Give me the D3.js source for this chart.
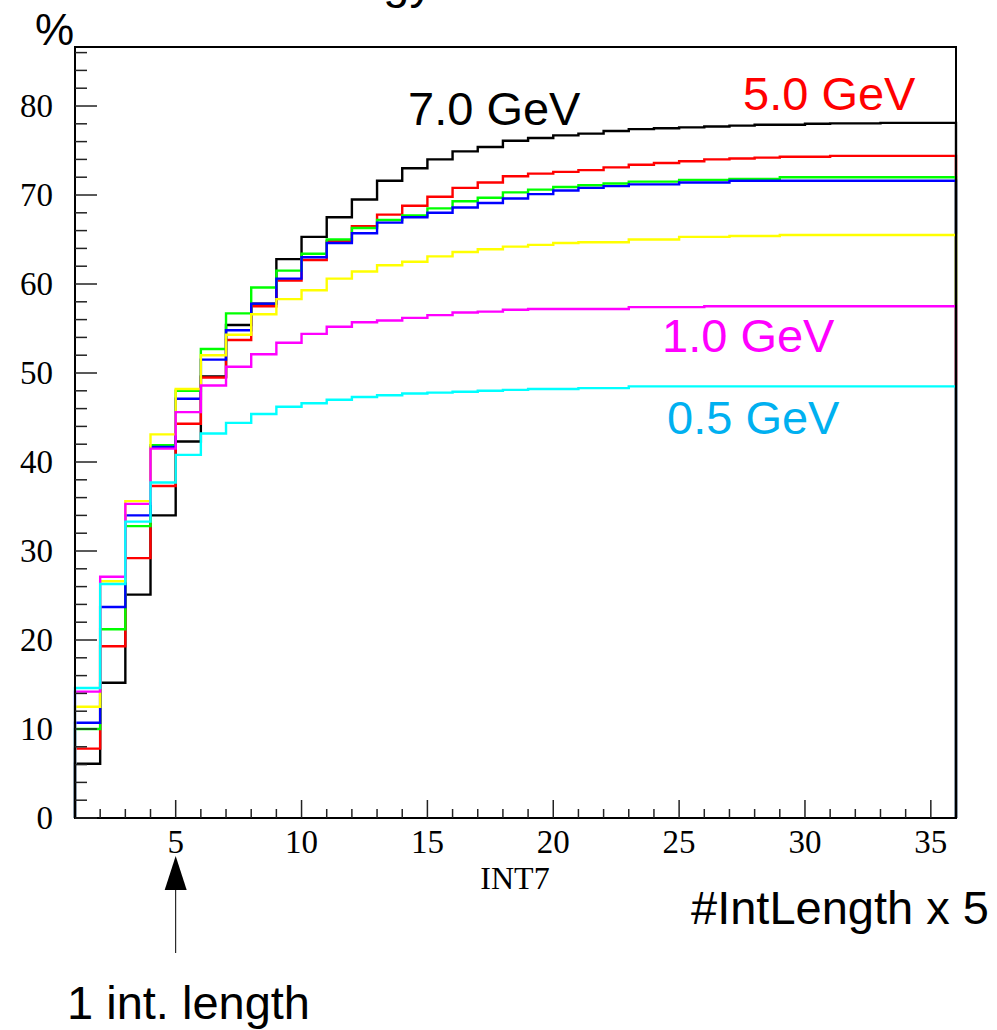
<!DOCTYPE html>
<html>
<head>
<meta charset="utf-8">
<script src="https://cdn.jsdelivr.net/npm/d3@7"></script>
<style>
  html, body { margin: 0; padding: 0; background: #fff; }
  svg { display: block; }
</style>
</head>
<body>
<svg id="chart" width="997" height="1030"></svg>
<script>
// ---- data ----
const binEdges = [1,2,3,4,5,6,7,8,9,10,11,12,13,14,15,16,17,18,19,20,21,22,23,24,25,26,27,28,29,30,31,32,33,34,35,36];

const energies = ["7.0 GeV", "5.0 GeV", "3.0 GeV", "2.0 GeV", "1.5 GeV", "1.0 GeV", "0.5 GeV"];
const seriesColors = ["#000000", "#ff0000", "#00ff00", "#0000ff", "#ffff00", "#ff00ff", "#00ffff"];

const black7 = [6.1,15.2,25.1,34.0,42.3,49.6,55.4,57.8,62.8,65.3,67.5,69.5,71.6,73.0,74.0,74.9,75.4,76.1,76.4,76.7,76.9,77.2,77.4,77.5,77.6,77.7,77.8,77.9,77.9,78.0,78.05,78.05,78.1,78.1,78.1];
const red5 = [7.8,19.3,29.2,37.3,44.3,49.5,53.7,57.5,60.4,62.7,64.8,66.5,67.8,68.8,69.8,70.8,71.4,72.1,72.4,72.6,72.8,73.1,73.4,73.6,73.8,74.0,74.1,74.2,74.3,74.3,74.4,74.4,74.4,74.4,74.4];
const green3 = [10.0,21.2,32.8,41.9,48.0,52.7,56.7,59.6,61.5,63.4,65.0,66.3,67.2,67.7,68.5,69.3,69.7,70.3,70.6,70.9,71.1,71.3,71.5,71.5,71.7,71.7,71.8,71.8,72.0,72.0,72.0,72.0,72.0,72.0,72.0];
const blue2 = [10.7,23.7,34.0,41.7,47.1,51.5,54.8,57.8,60.6,63.0,64.6,65.7,66.9,67.5,68.0,68.6,69.1,69.6,70.1,70.5,70.8,71.0,71.2,71.2,71.4,71.4,71.6,71.6,71.6,71.6,71.6,71.6,71.6,71.6,71.6];
const yellow15 = [12.5,26.6,35.6,43.1,48.2,52.0,54.3,56.6,58.3,59.3,60.6,61.4,62.1,62.5,63.1,63.6,63.9,64.2,64.4,64.6,64.7,64.7,65.0,65.0,65.3,65.3,65.4,65.4,65.5,65.5,65.5,65.5,65.5,65.5,65.5];
const magenta1 = [14.2,27.1,35.3,41.5,45.6,48.6,50.7,52.1,53.4,54.4,55.2,55.7,55.9,56.2,56.5,56.8,56.9,57.1,57.2,57.2,57.2,57.2,57.4,57.4,57.4,57.5,57.5,57.5,57.5,57.5,57.5,57.5,57.5,57.5,57.5];
const cyan05 = [14.6,26.3,33.3,37.7,40.8,43.2,44.4,45.4,46.2,46.6,47.0,47.3,47.5,47.7,47.8,47.9,48.0,48.1,48.2,48.2,48.3,48.3,48.5,48.5,48.5,48.5,48.5,48.5,48.5,48.5,48.5,48.5,48.5,48.5,48.5];

const allSeries = [black7, red5, green3, blue2, yellow15, magenta1, cyan05];

const yMajorTicks = [0,10,20,30,40,50,60,70,80];
const xMajorTicks = [5,10,15,20,25,30,35];

const labels = [
  {text: "7.0 GeV", color: "#000000"},
  {text: "5.0 GeV", color: "#ff0000"},
  {text: "1.0 GeV", color: "#ff00ff"},
  {text: "0.5 GeV", color: "#00b0f0"}
];

// ---- layout ----
const L = 75, R = 956, T = 47, B = 818;
const svg = d3.select("#chart");

const x = d3.scaleLinear().domain([1, 36]).range([L, R]);
const y = d3.scaleLinear().domain([0, 86.63]).range([B, T]);

// histograms
const line = d3.line().x(d => x(d[0])).y(d => y(d[1])).curve(d3.curveStepAfter);
allSeries.forEach((vals, k) => {
  const pts = [[binEdges[0], 0]];
  vals.forEach((v, i) => pts.push([binEdges[i], v]));
  pts.push([binEdges[binEdges.length - 1], vals[vals.length - 1]]);
  pts.push([binEdges[binEdges.length - 1], 0]);
  svg.append("path")
    .attr("d", line(pts))
    .attr("fill", "none")
    .attr("stroke", seriesColors[k])
    .attr("stroke-width", 2.4);
});

// frame
svg.append("rect").attr("x", L).attr("y", T).attr("width", R - L).attr("height", B - T)
  .attr("fill", "none").attr("stroke", "#000").attr("stroke-width", 2);

// y ticks (inside, pointing right)
const yMinor = d3.range(0, 87, 2);
svg.append("g").selectAll("line").data(yMinor).join("line")
  .attr("x1", L).attr("x2", d => L + (d % 10 === 0 ? 22 : 12))
  .attr("y1", d => y(d)).attr("y2", d => y(d))
  .attr("stroke", "#222").attr("stroke-width", 1.5);

svg.append("g").selectAll("text").data(yMajorTicks).join("text")
  .attr("x", 53).attr("y", d => y(d) + 11)
  .attr("text-anchor", "end")
  .attr("font-family", "'Liberation Serif', 'DejaVu Serif', serif")
  .attr("font-size", 33)
  .text(d => d);

// x ticks (inside, pointing up)
const xMinor = d3.range(2, 36, 1);
svg.append("g").selectAll("line").data(xMinor).join("line")
  .attr("x1", d => x(d)).attr("x2", d => x(d))
  .attr("y1", B).attr("y2", d => B - (d % 5 === 0 ? 18 : 9))
  .attr("stroke", "#222").attr("stroke-width", 1.5);

svg.append("g").selectAll("text").data(xMajorTicks).join("text")
  .attr("x", d => x(d)).attr("y", 853)
  .attr("text-anchor", "middle")
  .attr("font-family", "'Liberation Serif', 'DejaVu Serif', serif")
  .attr("font-size", 33)
  .text(d => d);

// axis title
svg.append("text").attr("x", 515).attr("y", 889).attr("text-anchor", "middle")
  .attr("font-family", "'Liberation Serif', serif").attr("font-size", 32).text("INT7");

const sans = "'Liberation Sans', Arial, sans-serif";
// top title (cut off at the top edge, as in the reference)
svg.append("text").attr("x", 433).attr("y", -2).attr("text-anchor", "end")
  .attr("font-family", sans).attr("font-size", 47).text("Energy");
// % label
svg.append("text").attr("x", 35).attr("y", 45)
  .attr("font-family", sans).attr("font-size", 44).text("%");

// energy labels
const labelPos = [[408, 125], [743, 110], [662, 352], [667, 434]];
labels.forEach((lb, i) => {
  svg.append("text").attr("x", labelPos[i][0]).attr("y", labelPos[i][1])
    .attr("font-family", sans).attr("font-size", 47).attr("fill", lb.color).text(lb.text);
});

// annotations
svg.append("text").attr("x", 691).attr("y", 924)
  .attr("font-family", sans).attr("font-size", 47).text("#IntLength x 5");
svg.append("text").attr("x", 67).attr("y", 1019)
  .attr("font-family", sans).attr("font-size", 47).text("1 int. length");

// arrow
const ax = x(5);
svg.append("line").attr("x1", ax).attr("x2", ax).attr("y1", 953).attr("y2", 885)
  .attr("stroke", "#000").attr("stroke-width", 1);
svg.append("path")
  .attr("d", `M${ax},856 L${ax - 11},890 L${ax + 11},890 Z`)
  .attr("fill", "#000");
</script>
</body>
</html>
